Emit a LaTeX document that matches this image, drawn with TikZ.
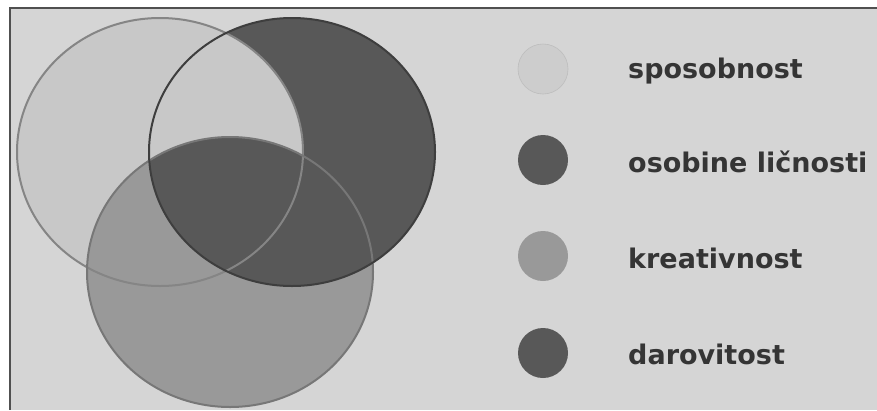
\documentclass[tikz,border=0pt]{standalone}
\usepackage{fontspec}
\setmainfont{DejaVu Sans}
\definecolor{bg}{HTML}{D5D5D5}
\definecolor{frame}{HTML}{505050}
\definecolor{lightfill}{HTML}{C8C8C8}
\definecolor{legendlight}{HTML}{CDCDCD}
\definecolor{darkfill}{HTML}{585858}
\definecolor{midfill}{HTML}{999999}
\definecolor{lightline}{HTML}{858585}
\definecolor{darkline}{HTML}{3E3E3E}
\definecolor{midline}{HTML}{777777}
\definecolor{txt}{HTML}{353535}
\tikzset{
  legdot/.style={circle, minimum size=50pt, inner sep=0pt},
  legtext/.style={anchor=base west, inner sep=0pt, text=txt, font=\fontsize{27}{30}\selectfont\bfseries},
  vennline/.style={line width=2pt},
}
\begin{document}
\begin{tikzpicture}[x=1pt,y=-1pt]
\useasboundingbox (0,0) rectangle (877,410);
\fill[white] (0,0) rectangle (877,410);
\fill[bg] (9.5,7.5) rectangle (877,410);
\draw[frame, line width=2pt] (877,7.5) -- (9.5,7.5) -- (9.5,410);
% Venn fills
\fill[darkfill] (292,152) ellipse [x radius=143, y radius=134];
\fill[lightfill] (160,152) ellipse [x radius=143, y radius=134];
\fill[midfill] (230,272) ellipse [x radius=143, y radius=135];
\begin{scope}
  \clip (292,152) ellipse [x radius=143, y radius=134];
  \fill[darkfill] (230,272) ellipse [x radius=143, y radius=135];
\end{scope}
% outlines
\draw[lightline, vennline] (160,152) ellipse [x radius=143, y radius=134];
\draw[midline, vennline] (230,272) ellipse [x radius=143, y radius=135];
\draw[darkline, vennline] (292,152) ellipse [x radius=143, y radius=134];
% legend
\node[legdot, fill=legendlight, draw=legendlight!92!black, line width=0.6pt] (d1) at (543,69) {};
\node[legdot, fill=darkfill] (d2) at (543,160) {};
\node[legdot, fill=midfill] (d3) at (543,256) {};
\node[legdot, fill=darkfill] (d4) at (543,353) {};
\node[legtext] (t1) at (628,78) {sposobnost};
\node[legtext] (t2) at (628,172) {osobine ličnosti};
\node[legtext] (t3) at (628,268) {kreativnost};
\node[legtext] (t4) at (628,364) {darovitost};
\end{tikzpicture}
\end{document}
